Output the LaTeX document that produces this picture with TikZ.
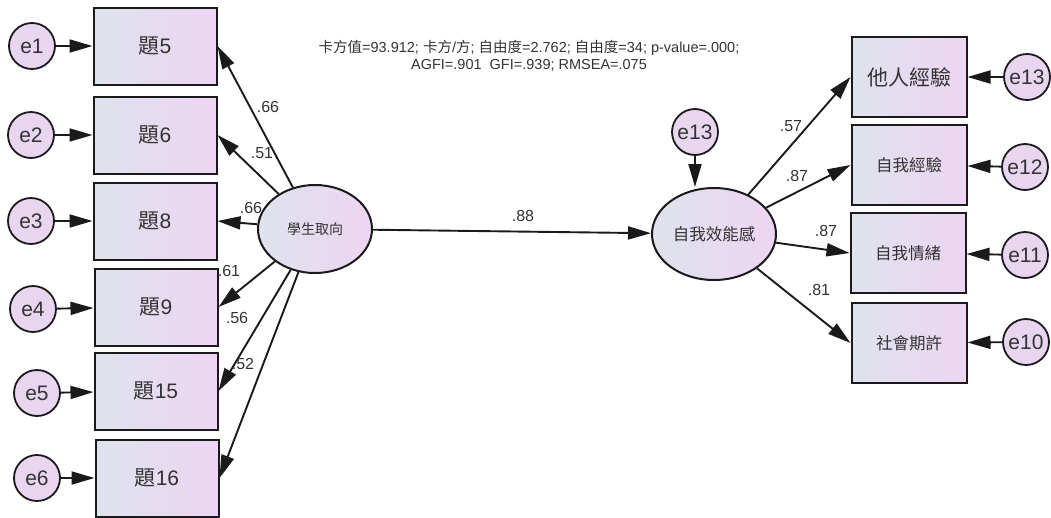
\documentclass[tikz,border=0pt]{standalone}
\usepackage{fontspec}
\setmainfont{Liberation Sans}
\newfontfamily\cjk{Noto Sans CJK TC}
\usetikzlibrary{arrows.meta,shapes.geometric}
\definecolor{lc}{HTML}{1A1A1A}
\definecolor{gl}{HTML}{DEE3EC}
\definecolor{gr}{HTML}{EDD5F3}
\definecolor{ef}{HTML}{E8D6F1}
\definecolor{tc}{HTML}{333333}
\tikzset{
 obs/.style={draw=lc, line width=2pt, rectangle, minimum width=123pt, minimum height=77pt, left color=gl, right color=gr, text=tc, font=\fontsize{21}{21}\selectfont, inner sep=0pt},
 robs/.style={obs, minimum width=115pt, minimum height=80pt, font=\fontsize{16.5}{16.5}\selectfont},
 err/.style={draw=lc, line width=1.8pt, circle, minimum size=46pt, inner sep=0pt, fill=ef, text=tc, font=\fontsize{21}{21}\selectfont},
 lat/.style={draw=lc, line width=2pt, ellipse, minimum width=114pt, minimum height=88pt, left color=gl, right color=gr, inner sep=0pt, text=tc, font=\fontsize{14}{14}\selectfont},
 pth/.style={draw=lc, line width=1.9pt, -{Triangle[length=23pt,width=13pt]}},
 lab/.style={text=tc, font=\fontsize{16}{16}\selectfont, inner sep=0pt}
}
\begin{document}
\begin{tikzpicture}[x=1pt,y=-1pt]
\useasboundingbox (0,0) rectangle (1051,517);
% left observed
\node[obs] (b5) at (155,46) {{\cjk 題}5};
\node[obs] (b6) at (155,135) {{\cjk 題}6};
\node[obs] (b8) at (155,221) {{\cjk 題}8};
\node[obs] (b9) at (156,307) {{\cjk 題}9};
\node[obs] (b15) at (156,391) {{\cjk 題}15};
\node[obs] (b16) at (157,478) {{\cjk 題}16};
\node[err] (e1) at (32,46) {e1};
\node[err] (e2) at (31,135) {e2};
\node[err] (e3) at (31,221) {e3};
\node[err] (e4) at (33,309) {e4};
\node[err] (e5) at (37,393) {e5};
\node[err] (e6) at (37,478) {e6};
\foreach \e/\b in {e1/b5,e2/b6,e3/b8,e4/b9,e5/b15,e6/b16} \draw[pth] (\e) -- (\b);
% latent
\node[lat] (s) at (315,229) {\cjk 學生取向};
\node[lat, minimum width=124pt, minimum height=92pt, font=\fontsize{16.5}{16.5}\selectfont] (f) at (714,234) {\cjk 自我效能感};
\foreach \b in {b5,b6,b8,b9,b15,b16} \draw[pth] (s) -- (\b.east);
\draw[pth] (s) -- (f);
\node[err] (e13t) at (695,132) {e13};
\draw[pth] (e13t) -- (e13t |- f.north);
% right observed
\node[robs, font=\fontsize{21}{21}\selectfont] (r1) at (909,77) {\cjk 他人經驗};
\node[robs] (r2) at (909,165) {\cjk 自我經驗};
\node[robs] (r3) at (908,253) {\cjk 自我情緒};
\node[robs] (r4) at (909,343) {\cjk 社會期許};
\node[err] (e13r) at (1027,77) {e13};
\node[err] (e12) at (1025,167) {e12};
\node[err] (e11) at (1025,255) {e11};
\node[err] (e10) at (1026,342) {e10};
\foreach \e/\b in {e13r/r1,e12/r2,e11/r3,e10/r4} \draw[pth] (\e) -- (\b);
\foreach \b in {r1,r2,r3,r4} \draw[pth] (f) -- (\b.west);
% labels
\node[lab] (l1) at (268,107) {.66};
\node[lab] (l2) at (262,153) {.51};
\node[lab] (l3) at (251,208) {.66};
\node[lab] (l4) at (229,271) {.61};
\node[lab] (l5) at (237,318) {.56};
\node[lab] (l6) at (243,364) {.52};
\node[lab] (l7) at (523,216) {.88};
\node[lab] (l8) at (791,126) {.57};
\node[lab] (l9) at (797,176) {.87};
\node[lab] (l10) at (826,231) {.87};
\node[lab] (l11) at (819,290) {.81};
\node[text=tc, font=\fontsize{14.5}{17.5}\selectfont, align=center, inner sep=0pt] (fit) at (529,56) {{\cjk 卡方值}=93.912; {\cjk 卡方}/{\cjk 方}; {\cjk 自由度}=2.762; {\cjk 自由度}=34; p-value=.000;\\AGFI=.901\ \ GFI=.939; RMSEA=.075};
\end{tikzpicture}
\end{document}
